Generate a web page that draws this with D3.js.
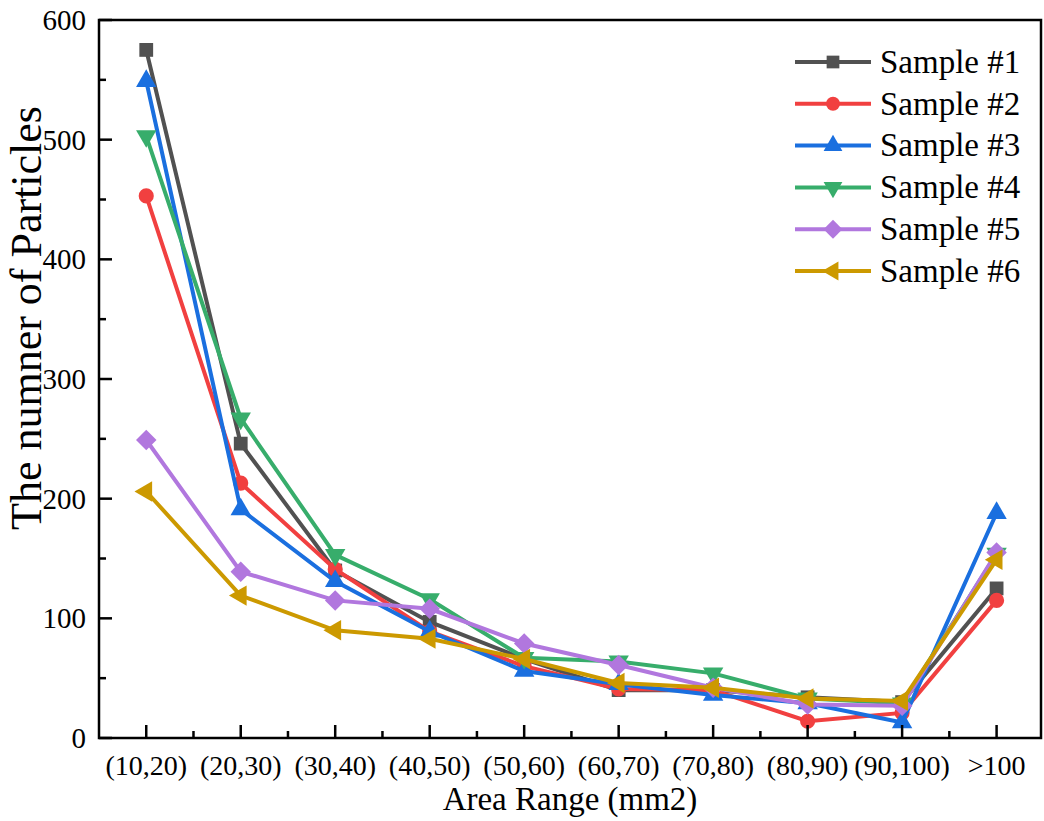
<!DOCTYPE html>
<html>
<head>
<meta charset="utf-8">
<script src="https://cdn.jsdelivr.net/npm/d3@7"></script>
<style>
  html, body { margin: 0; padding: 0; background: #fff; }
  svg { display: block; }
  text { font-family: "Liberation Serif", "Times New Roman", serif; fill: #000; }
</style>
</head>
<body>
<svg id="chart" width="1044" height="821"></svg>
<script>
// Area ranges along the x axis
const categories = ["(10,20)", "(20,30)", "(30,40)", "(40,50)", "(50,60)",
                    "(60,70)", "(70,80)", "(80,90)", "(90,100)", ">100"];

// Particle counts per sample
const sample1 = [575, 246, 140, 97, 66, 40, 40, 34, 30, 125];
const sample2 = [453, 213, 141, 89, 60, 41, 40, 14, 21, 115];
const sample3 = [549, 191, 131, 89, 56, 45, 36, 29, 13, 188];
const sample4 = [503, 267, 153, 116, 67, 64, 54, 33, 29, 154];
const sample5 = [249, 139, 115, 108, 79, 61, 42, 28, 27, 155];
const sample6 = [206, 119, 90, 83, 66, 46, 42, 33, 31, 149];

const seriesNames = ["Sample #1", "Sample #2", "Sample #3", "Sample #4", "Sample #5", "Sample #6"];
const seriesValues = [sample1, sample2, sample3, sample4, sample5, sample6];
const seriesColors = ["#515151", "#F14040", "#1A6FDF", "#37AD6B", "#B177DE", "#CC9900"];

const yTicks = [0, 100, 200, 300, 400, 500, 600];

// Marker shapes: square, circle, up-triangle, down-triangle, diamond, left-triangle
const markers = [
  { type: d3.symbolSquare,   size: 190, rotate: 0 },
  { type: d3.symbolCircle,   size: 180, rotate: 0 },
  { type: d3.symbolTriangle, size: 180, rotate: 0 },
  { type: d3.symbolTriangle, size: 180, rotate: 180 },
  { type: d3.symbolSquare,   size: 210, rotate: 45 },
  { type: d3.symbolTriangle, size: 180, rotate: -90 }
];

const svg = d3.select("#chart");
const plot = { left: 99, right: 1041, top: 20, bottom: 738 };

const x = d3.scaleLinear().domain([-0.5, 9.47]).range([plot.left, plot.right]);
const y = d3.scaleLinear().domain([0, 600]).range([plot.bottom, plot.top]);

const axisColor = "#000";
const axisWidth = 2.5;
const tickFont = 28;

// Series: line then markers, drawn in order so later samples sit on top
seriesValues.forEach((vals, s) => {
  const g = svg.append("g");
  const line = d3.line().x((d, i) => x(i)).y(d => y(d));
  g.append("path")
    .datum(vals)
    .attr("d", line)
    .attr("fill", "none")
    .attr("stroke", seriesColors[s])
    .attr("stroke-width", 4);
  const sym = d3.symbol().type(markers[s].type).size(markers[s].size);
  g.selectAll("path.mk")
    .data(vals)
    .join("path")
    .attr("class", "mk")
    .attr("d", sym)
    .attr("transform", (d, i) => `translate(${x(i)},${y(d)}) rotate(${markers[s].rotate})`)
    .attr("fill", seriesColors[s]);
});

// Frame
svg.append("rect")
  .attr("x", plot.left).attr("y", plot.top)
  .attr("width", plot.right - plot.left).attr("height", plot.bottom - plot.top)
  .attr("fill", "none").attr("stroke", axisColor).attr("stroke-width", axisWidth);

// Y axis: inward ticks, minor ticks every 50
const yAxis = svg.append("g");
yTicks.forEach(t => {
  yAxis.append("line")
    .attr("x1", plot.left).attr("x2", plot.left + 13)
    .attr("y1", y(t)).attr("y2", y(t))
    .attr("stroke", axisColor).attr("stroke-width", axisWidth);
  yAxis.append("text")
    .attr("x", plot.left - 13).attr("y", y(t))
    .attr("dy", "0.35em")
    .attr("text-anchor", "end")
    .attr("font-size", 29)
    .text(t);
});
d3.range(50, 600, 100).forEach(t => {
  yAxis.append("line")
    .attr("x1", plot.left).attr("x2", plot.left + 7)
    .attr("y1", y(t)).attr("y2", y(t))
    .attr("stroke", axisColor).attr("stroke-width", axisWidth);
});

// X axis: inward ticks at each category, minor ticks between
const xAxis = svg.append("g");
categories.forEach((c, i) => {
  xAxis.append("line")
    .attr("x1", x(i)).attr("x2", x(i))
    .attr("y1", plot.bottom).attr("y2", plot.bottom - 13)
    .attr("stroke", axisColor).attr("stroke-width", axisWidth);
  xAxis.append("text")
    .attr("x", x(i)).attr("y", plot.bottom + 37)
    .attr("text-anchor", "middle")
    .attr("font-size", tickFont)
    .text(c);
});
d3.range(0.5, 9, 1).forEach(t => {
  xAxis.append("line")
    .attr("x1", x(t)).attr("x2", x(t))
    .attr("y1", plot.bottom).attr("y2", plot.bottom - 7)
    .attr("stroke", axisColor).attr("stroke-width", axisWidth);
});

// Axis titles
svg.append("text")
  .attr("x", (plot.left + plot.right) / 2).attr("y", 810)
  .attr("text-anchor", "middle")
  .attr("font-size", 33)
  .text("Area Range (mm2)");

svg.append("text")
  .attr("transform", `translate(41,318) rotate(-90)`)
  .attr("text-anchor", "middle")
  .attr("font-size", 44)
  .text("The numner of Particles");

// Legend
const legend = svg.append("g");
seriesNames.forEach((name, s) => {
  const ly = 62 + s * 41.8;
  legend.append("line")
    .attr("x1", 795).attr("x2", 871)
    .attr("y1", ly).attr("y2", ly)
    .attr("stroke", seriesColors[s]).attr("stroke-width", 4);
  legend.append("path")
    .attr("d", d3.symbol().type(markers[s].type).size(markers[s].size * 0.85)())
    .attr("transform", `translate(833,${ly}) rotate(${markers[s].rotate})`)
    .attr("fill", seriesColors[s]);
  legend.append("text")
    .attr("x", 880).attr("y", ly)
    .attr("dy", "0.33em")
    .attr("font-size", 33)
    .text(name);
});
</script>
</body>
</html>
